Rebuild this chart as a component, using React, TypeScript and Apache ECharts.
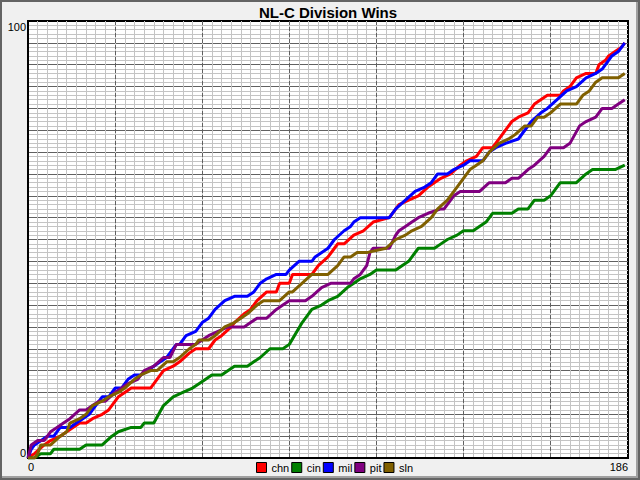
import React, { useEffect, useRef } from "react";
import * as echarts from "echarts";

const teams = ["chn", "cin", "mil", "pit", "sln"];
const teamColors = ["#ff0000", "#008000", "#0000ff", "#800080", "#806000"];

const xTickLabels = ["0", "186"];
const yTickLabels = ["0", "100"];

// [day, cumulative wins]
const chnWins: [number, number][] = [
  [0, 0], [2, 1], [5, 3], [7, 4], [10, 5], [12, 6], [16, 8], [18, 8], [20, 9], [23, 10], [25, 11],
  [28, 14], [30, 15], [32, 16], [38, 16], [40, 18], [42, 20], [45, 21], [47, 22], [50, 24], [52, 25],
  [56, 25], [58, 27], [60, 28], [63, 30], [64, 31], [67, 33], [69, 34], [71, 36], [74, 38], [77, 38],
  [78, 40], [81, 40], [82, 42], [88, 42], [90, 44], [93, 46], [95, 48], [96, 49], [98, 49], [101, 51],
  [104, 52], [107, 54], [112, 55], [113, 56], [115, 58], [118, 59], [121, 60], [124, 62], [128, 64],
  [131, 65], [134, 67], [136, 68], [139, 69], [141, 71], [144, 71], [147, 74], [150, 77], [152, 78],
  [155, 79], [157, 81], [161, 83], [165, 83], [166, 84], [168, 85], [170, 87], [173, 88], [176, 88],
  [177, 90], [179, 91], [180, 92], [182, 93], [184, 94], [185, 95],
];

const cinWins: [number, number][] = [
  [0, 0], [2, 0], [4, 1], [7, 1], [8, 2], [16, 2], [18, 3], [23, 3], [26, 5], [28, 6], [32, 7],
  [35, 7], [36, 8], [39, 8], [42, 12], [45, 14], [48, 15], [51, 16], [53, 17], [57, 19], [60, 19],
  [64, 21], [68, 21], [70, 22], [72, 23], [75, 25], [79, 25], [81, 26], [85, 31], [88, 34], [91, 35],
  [93, 36], [96, 37], [99, 39], [101, 40], [103, 41], [106, 42], [108, 43], [114, 43], [118, 45],
  [121, 48], [126, 48], [128, 49], [130, 50], [133, 51], [135, 52], [138, 52], [142, 54], [144, 56],
  [150, 56], [152, 57], [155, 57], [157, 59], [160, 59], [162, 60], [165, 63], [170, 63], [173, 65],
  [175, 66], [182, 66], [185, 67],
];

const milWins: [number, number][] = [
  [0, 0], [1, 2], [2, 3], [6, 5], [8, 5], [10, 7], [13, 7], [15, 8], [17, 9], [19, 10], [20, 11],
  [23, 14], [25, 14], [27, 16], [29, 16], [31, 18], [33, 19], [35, 19], [39, 21], [41, 22], [43, 23],
  [45, 25], [46, 26], [47, 26], [49, 28], [52, 29], [54, 31], [56, 32], [58, 34], [61, 36], [64, 37],
  [68, 37], [70, 38], [72, 40], [74, 41], [77, 42], [80, 42], [81, 43], [84, 45], [88, 45], [89, 46],
  [93, 48], [95, 50], [98, 52], [100, 53], [101, 54], [103, 55], [112, 55], [114, 57], [117, 59],
  [120, 61], [123, 62], [125, 63], [127, 65], [130, 65], [132, 66], [135, 67], [137, 68], [141, 68],
  [143, 70], [145, 71], [148, 72], [152, 73], [156, 77], [159, 79], [161, 80], [164, 82], [167, 84],
  [170, 85], [173, 87], [176, 88], [178, 89], [181, 92], [183, 93], [185, 95],
];

const pitWins: [number, number][] = [
  [0, 0], [1, 3], [3, 4], [5, 4], [7, 6], [9, 7], [11, 8], [13, 9], [16, 11], [18, 11], [20, 12],
  [22, 13], [24, 13], [27, 15], [29, 16], [31, 17], [34, 18], [36, 20], [39, 21], [42, 23], [44, 23],
  [46, 26], [52, 26], [54, 27], [56, 28], [62, 30], [67, 30], [69, 31], [71, 32], [74, 32], [77, 34],
  [79, 35], [81, 36], [86, 36], [88, 37], [91, 39], [94, 40], [100, 40], [101, 41], [103, 42],
  [105, 44], [106, 47], [107, 48], [112, 48], [114, 51], [115, 52], [117, 53], [119, 54], [121, 55],
  [124, 56], [128, 57], [129, 57], [132, 60], [134, 61], [140, 61], [143, 63], [148, 63], [150, 64],
  [152, 64], [155, 66], [157, 67], [160, 69], [162, 71], [166, 71], [168, 72], [171, 76], [173, 77],
  [176, 78], [178, 80], [181, 80], [183, 81], [185, 82],
];

const slnWins: [number, number][] = [
  [0, 0], [2, 0], [3, 1], [4, 3], [7, 3], [10, 5], [12, 6], [13, 8], [16, 9], [18, 10], [20, 12],
  [23, 13], [25, 14], [28, 15], [30, 16], [33, 18], [35, 19], [38, 20], [40, 20], [43, 22], [45, 22],
  [47, 23], [50, 25], [52, 26], [53, 27], [56, 27], [58, 28], [61, 30], [64, 31], [66, 32], [68, 33],
  [71, 35], [73, 36], [78, 36], [81, 38], [82, 38], [85, 40], [88, 42], [93, 42], [96, 44], [98, 46],
  [100, 46], [102, 47], [105, 47], [111, 48], [114, 50], [117, 51], [119, 52], [122, 53], [125, 55],
  [127, 57], [130, 59], [133, 62], [135, 64], [137, 66], [139, 67], [141, 68], [143, 70], [146, 72],
  [149, 73], [151, 74], [154, 76], [156, 76], [158, 78], [160, 78], [162, 79], [165, 81], [170, 81],
  [172, 83], [174, 84], [176, 86], [178, 87], [183, 87], [185, 88],
];

const seriesData = [chnWins, cinWins, milWins, pitWins, slnWins];

const FONT = '"Liberation Sans", Arial, sans-serif';

export default function App() {
  const ref = useRef<HTMLDivElement>(null);

  useEffect(() => {
    if (!ref.current) return;
    const chart = echarts.init(ref.current, undefined, { renderer: "svg" });
    const xMin = Number(xTickLabels[0]);
    const xMax = Number(xTickLabels[1]);
    const yMin = Number(yTickLabels[0]);
    const yMax = Number(yTickLabels[1]);

    const option: any = {
      animation: false,
      backgroundColor: "#f0f0f0",
      textStyle: { fontFamily: FONT },
      grid: {
        left: 28,
        right: 12,
        top: 21,
        bottom: 22,
        show: true,
        backgroundColor: "#ffffff",
        borderColor: "#000000",
        borderWidth: 2,
        containLabel: false,
      },
      xAxis: [
        {
          type: "value",
          position: "top",
          min: xMin,
          max: xMax,
          interval: 3,
          axisLine: { show: false },
          axisTick: { show: false },
          axisLabel: { show: false },
          splitLine: {
            show: true,
            showMinLine: false,
            showMaxLine: false,
            lineStyle: { color: "#c4c4c4", width: 1 },
          },
        },
        {
          type: "value",
          position: "bottom",
          min: xMin,
          max: xMax,
          interval: 27,
          axisLine: { show: true, lineStyle: { color: "#000", width: 2 } },
          axisTick: { show: false },
          axisLabel: {
            show: true,
            interval: 0,
            showMinLabel: true,
            showMaxLabel: true,
            alignMinLabel: "left",
            alignMaxLabel: "right",
            margin: 3,
            color: "#000",
            fontSize: 11,
            fontFamily: FONT,
            formatter: (v: number) => (xTickLabels.includes(String(v)) ? String(v) : ""),
          },
          splitLine: {
            show: true,
            showMinLine: false,
            showMaxLine: false,
            lineStyle: { color: "#606060", width: 1, type: [4, 2] },
          },
        },
      ],
      yAxis: [
        {
          type: "value",
          position: "right",
          min: yMin,
          max: yMax,
          interval: 1,
          axisLine: { show: false },
          axisTick: { show: false },
          axisLabel: { show: false },
          splitLine: {
            show: true,
            showMinLine: false,
            showMaxLine: false,
            lineStyle: { color: "#c4c4c4", width: 1 },
          },
        },
        {
          type: "value",
          position: "left",
          min: yMin,
          max: yMax,
          interval: 5,
          axisLine: { show: true, lineStyle: { color: "#000", width: 2 } },
          axisTick: { show: false },
          axisLabel: {
            show: true,
            interval: 0,
            showMinLabel: true,
            showMaxLabel: true,
            verticalAlignMinLabel: "bottom",
            verticalAlignMaxLabel: "top",
            margin: 2,
            color: "#000",
            fontSize: 11,
            fontFamily: FONT,
            formatter: (v: number) => (yTickLabels.includes(String(v)) ? String(v) : ""),
          },
          splitLine: {
            show: true,
            showMinLine: false,
            showMaxLine: false,
            lineStyle: { color: "#606060", width: 1 },
          },
        },
      ],
      legend: {
        data: teams,
        left: 256,
        top: 462,
        orient: "horizontal",
        icon: "rect",
        itemWidth: 10,
        itemHeight: 10,
        itemGap: 2,
        padding: 0,
        itemStyle: { borderColor: "#000", borderWidth: 1 },
        textStyle: { color: "#000", fontSize: 11, fontFamily: FONT, width: 23 },
      },
      series: teams.map((name, i) => ({
        name,
        type: "line",
        xAxisIndex: 0,
        yAxisIndex: 0,
        data: seriesData[i],
        showSymbol: false,
        symbol: "none",
        color: teamColors[i],
        lineStyle: { color: teamColors[i], width: 3 },
        emphasis: { disabled: true },
        z: 3 + i,
      })),
      graphic: [
        {
          type: "text",
          x: 328,
          y: 12,
          style: {
            text: "NL-C Division Wins",
            textAlign: "center",
            textVerticalAlign: "middle",
            font: `bold 15px ${FONT}`,
            fill: "#000",
          },
        },
        {
          type: "rect",
          shape: { x: 1, y: 1, width: 638, height: 478 },
          style: { fill: "none", stroke: "#646464", lineWidth: 2 },
          z: 100,
        },
        {
          type: "polyline",
          shape: { points: [[637, 2], [637, 477], [2, 477]] },
          style: { fill: "none", stroke: "#a0a0a0", lineWidth: 2 },
          z: 100,
        },
      ],
    };
    chart.setOption(option);
    return () => chart.dispose();
  }, []);

  return (
    <div
      ref={ref}
      style={{ position: "fixed", left: 0, top: 0, width: 640, height: 480 }}
    />
  );
}
